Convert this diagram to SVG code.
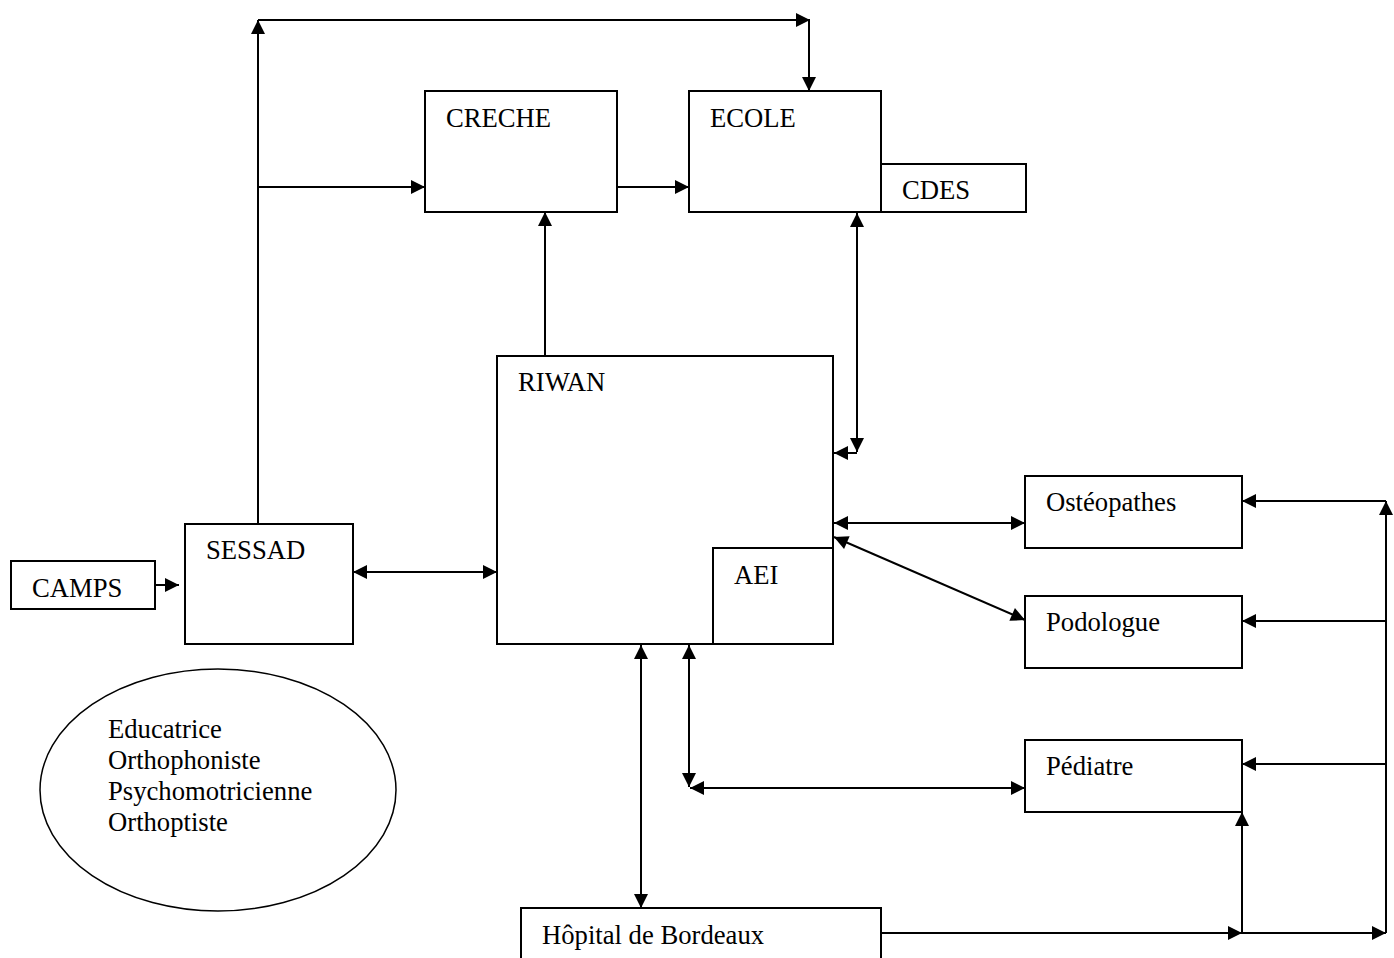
<svg xmlns="http://www.w3.org/2000/svg" width="1394" height="958" viewBox="0 0 1394 958">
<style>
.box{fill:#fff;stroke:#000;stroke-width:2}
.t{font-family:"Liberation Serif","Times New Roman",serif;font-size:26.67px;fill:#000}
.c{fill:none;stroke:#000;stroke-width:2}
.a{marker-end:url(#ah)}
.d{marker-start:url(#ah);marker-end:url(#ah)}
</style>
<defs>
<marker id="ah" viewBox="0 0 10 10" refX="10" refY="5" markerWidth="15" markerHeight="14" markerUnits="userSpaceOnUse" orient="auto-start-reverse"><path d="M0,0 L10,5 L0,10z" fill="#000"/></marker>
</defs>
<rect width="1394" height="958" fill="#fff"/>
<g id="connectors">
<line class="c a" x1="258" y1="524" x2="258" y2="20"/>
<line class="c a" x1="258" y1="20" x2="810" y2="20"/>
<line class="c a" x1="809" y1="20" x2="809" y2="91"/>
<line class="c a" x1="258" y1="187" x2="425" y2="187"/>
<line class="c a" x1="617" y1="187" x2="689" y2="187"/>
<line class="c a" x1="545" y1="356" x2="545" y2="212"/>
<line class="c d" x1="857" y1="213" x2="857" y2="452"/>
<polyline class="c a" points="857,453 834,453"/>
<line class="c d" x1="834" y1="523" x2="1025" y2="523"/>
<line class="c d" x1="834" y1="537" x2="1025" y2="620"/>
<line class="c d" x1="353" y1="572" x2="497" y2="572"/>
<line class="c a" x1="155" y1="585" x2="179" y2="585"/>
<line class="c d" x1="641" y1="645" x2="641" y2="908"/>
<line class="c d" x1="689" y1="645" x2="689" y2="787"/>
<line class="c d" x1="690" y1="788" x2="1025" y2="788"/>
<line class="c a" x1="881" y1="933" x2="1242" y2="933"/>
<line class="c a" x1="1242" y1="933" x2="1386" y2="933"/>
<line class="c a" x1="1242" y1="933" x2="1242" y2="812"/>
<line class="c a" x1="1386" y1="933" x2="1386" y2="501"/>
<line class="c a" x1="1386" y1="501" x2="1242" y2="501"/>
<line class="c a" x1="1386" y1="621" x2="1242" y2="621"/>
<line class="c a" x1="1386" y1="764" x2="1242" y2="764"/>
</g>
<g id="camps"><rect class="box" x="11" y="561" width="144" height="48"/><text class="t" x="32" y="597">CAMPS</text></g>
<g id="sessad"><rect class="box" x="185" y="524" width="168" height="120"/><text class="t" x="206" y="559">SESSAD</text></g>
<g id="creche"><rect class="box" x="425" y="91" width="192" height="121"/><text class="t" x="446" y="127">CRECHE</text></g>
<g id="ecole"><rect class="box" x="689" y="91" width="192" height="121"/><text class="t" x="710" y="127">ECOLE</text></g>
<g id="cdes"><rect class="box" x="881" y="164" width="145" height="48"/><text class="t" x="902" y="199">CDES</text></g>
<g id="riwan"><rect class="box" x="497" y="356" width="336" height="288"/><text class="t" x="518" y="391">RIWAN</text></g>
<g id="aei"><rect class="box" x="713" y="548" width="120" height="96"/><text class="t" x="734" y="584">AEI</text></g>
<g id="osteopathes"><rect class="box" x="1025" y="476" width="217" height="72"/><text class="t" x="1046" y="511">Ostéopathes</text></g>
<g id="podologue"><rect class="box" x="1025" y="596" width="217" height="72"/><text class="t" x="1046" y="631">Podologue</text></g>
<g id="pediatre"><rect class="box" x="1025" y="740" width="217" height="72"/><text class="t" x="1046" y="775">Pédiatre</text></g>
<g id="hopital"><rect class="box" x="521" y="908" width="360" height="70"/><text class="t" x="542" y="944">Hôpital de Bordeaux</text></g>
<g id="equipe">
<ellipse cx="218" cy="790" rx="178" ry="121" fill="#fff" stroke="#000" stroke-width="1.5"/>
<text class="t" x="108" y="738">Educatrice</text>
<text class="t" x="108" y="769">Orthophoniste</text>
<text class="t" x="108" y="800">Psychomotricienne</text>
<text class="t" x="108" y="831">Orthoptiste</text>
</g>
</svg>
